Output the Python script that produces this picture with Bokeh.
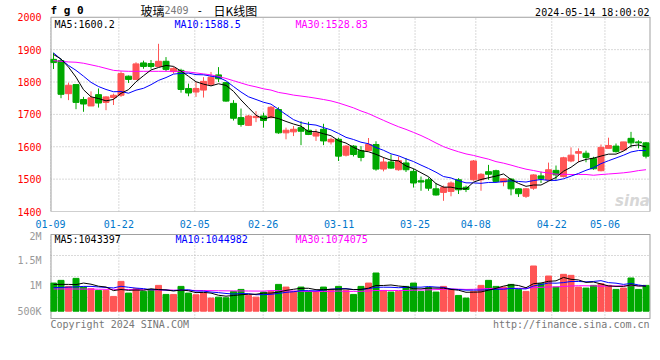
from bokeh.plotting import figure
from bokeh.layouts import column
from bokeh.models import FixedTicker, Label, Range1d, CustomJSTickFormatter
from bokeh.embed import file_html
from bokeh.resources import INLINE

# ---------------- data ----------------
dates = ["01-09","01-10","01-11","01-12","01-15","01-16","01-17","01-18","01-19","01-22",
         "01-23","01-24","01-25","01-26","01-29","01-30","01-31","02-01","02-02","02-05",
         "02-06","02-07","02-08","02-19","02-20","02-21","02-22","02-23","02-26","02-27",
         "02-28","02-29","03-01","03-04","03-05","03-06","03-07","03-08","03-11","03-12",
         "03-13","03-14","03-15","03-18","03-19","03-20","03-21","03-22","03-25","03-26",
         "03-27","03-28","03-29","04-01","04-02","04-03","04-08","04-09","04-10","04-11",
         "04-12","04-15","04-16","04-17","04-18","04-19","04-22","04-23","04-24","04-25",
         "04-26","04-29","04-30","05-06","05-07","05-08","05-09","05-10","05-13","05-14"]

open_ = [1870,1866,1764,1792,1746,1726,1761,1737,1752,1759,
         1818,1808,1859,1857,1848,1864,1832,1836,1780,1769,
         1775,1793,1822,1798,1734,1690,1666,1690,1695,1690,
         1715,1643,1646,1659,1651,1633,1654,1615,1623,1574,
         1602,1588,1588,1607,1531,1553,1529,1550,1524,1495,
         1498,1470,1459,1462,1498,1475,1498,1498,1523,1526,
         1491,1500,1470,1447,1472,1510,1498,1527,1508,1556,
         1580,1580,1564,1526,1595,1602,1590,1626,1615,1612]
high = [1890,1872,1798,1792,1754,1771,1780,1756,1764,1833,
        1820,1861,1866,1868,1918,1877,1846,1841,1795,1800,
        1815,1831,1846,1800,1744,1718,1698,1710,1705,1726,
        1722,1659,1664,1679,1677,1654,1671,1628,1628,1605,
        1605,1602,1627,1617,1567,1576,1570,1565,1532,1508,
        1505,1488,1480,1493,1503,1480,1559,1518,1544,1529,
        1503,1503,1472,1472,1515,1523,1551,1542,1569,1598,
        1595,1588,1569,1607,1628,1610,1615,1646,1620,1615]
low = [1840,1750,1744,1716,1708,1726,1721,1713,1729,1754,
       1797,1808,1841,1841,1848,1834,1826,1767,1756,1754,
       1752,1788,1800,1739,1681,1662,1664,1676,1659,1688,
       1640,1623,1633,1605,1636,1618,1605,1607,1556,1570,
       1570,1555,1586,1526,1524,1532,1526,1522,1474,1464,
       1464,1449,1433,1447,1454,1460,1495,1464,1498,1493,
       1478,1450,1445,1442,1467,1488,1495,1498,1505,1552,
       1552,1552,1529,1524,1595,1582,1588,1597,1595,1564]
close = [1860,1762,1790,1737,1732,1751,1735,1754,1759,1826,
         1808,1856,1848,1848,1864,1839,1842,1777,1766,1780,
         1802,1815,1810,1741,1688,1669,1695,1694,1681,1722,
         1643,1651,1654,1648,1638,1643,1618,1623,1571,1602,
         1576,1567,1607,1531,1553,1534,1557,1529,1488,1491,
         1472,1451,1474,1488,1467,1468,1556,1515,1515,1493,
         1501,1470,1455,1470,1513,1501,1529,1513,1566,1574,
         1585,1567,1532,1598,1604,1585,1615,1612,1612,1571]
volume = [1050000,1103000,985000,1142000,972000,939000,906000,906000,789000,1083000,
          854000,939000,887000,926000,1005000,828000,828000,985000,854000,821000,
          854000,756000,775000,762000,887000,926000,808000,775000,874000,887000,
          1024000,972000,887000,972000,887000,887000,972000,926000,985000,906000,
          828000,985000,1050000,1247000,906000,874000,887000,985000,1050000,887000,
          959000,874000,985000,926000,808000,756000,887000,1005000,1103000,985000,
          972000,1024000,926000,887000,1384000,1037000,1188000,972000,1221000,1201000,
          972000,952000,1005000,1037000,1005000,926000,952000,1149000,926000,1005000]

# moving-average values before a full window exists
ma5_head = [1885, 1871, 1846, 1815]
ma10_head = [1890, 1870, 1851, 1836, 1818, 1799, 1786, 1777, 1770]
ma30_head = [1866, 1864, 1862, 1861, 1858, 1853, 1848, 1842, 1836, 1834,
             1833, 1833, 1833, 1833, 1833, 1833, 1833, 1833, 1831, 1828,
             1825, 1822, 1817, 1811, 1804, 1797, 1790, 1785, 1779]
vol_ma5_head = [1024000, 1024000, 1024000, 1020000]
vol_ma10_head = [960000, 965000, 970000, 975000, 985000, 985000, 975000, 965000, 955000]
vol_ma30_head = [935000, 935000, 935000, 934000, 933000, 932000, 930000, 928000, 926000, 925000,
                 924000, 922000, 920000, 918000, 916000, 914000, 912000, 910000, 908000, 906000,
                 904000, 902000, 900000, 898000, 897000, 896000, 895000, 894000, 893000]

tick_dates = ["01-09","01-22","02-05","02-26","03-11","03-25","04-08","04-22","05-06"]
price_ticks = [1400, 1500, 1600, 1700, 1800, 1900, 2000]
vol_ticks = [500000, 1000000, 1500000, 2000000]

price_legend = ["MA5:1600.2", "MA10:1588.5", "MA30:1528.83"]
vol_legend = ["MA5:1043397", "MA10:1044982", "MA30:1074075"]

# ---------------- helpers ----------------
def moving_avg(series, n, head):
    out = list(head)
    for i in range(len(head), len(series)):
        out.append(sum(series[i - n + 1:i + 1]) / n)
    return out

N = len(dates)
idx = list(range(N))
UP, DOWN = "#ff5555", "#00a800"
colors = [UP if c > o else DOWN for o, c in zip(open_, close)]
body_top = [max(o, c) for o, c in zip(open_, close)]
body_bot = [min(o, c) for o, c in zip(open_, close)]

ma5 = moving_avg(close, 5, ma5_head)
ma10 = moving_avg(close, 10, ma10_head)
ma30 = moving_avg(close, 30, ma30_head)
vma5 = moving_avg(volume, 5, vol_ma5_head)
vma10 = moving_avg(volume, 10, vol_ma10_head)
vma30 = moving_avg(volume, 30, vol_ma30_head)

# ---- layout geometry (page pixels; the page has no margin) ----
FRAME_L, FRAME_W = 50, 600
X0 = -0.4
X1 = X0 + N
PX = FRAME_W / N
grid_pos = [dates.index(d) * N / (N - 1) + X0 for d in tick_dates]

# price panel: figure spans page y 0..230, frame 0..214, box 17..214
P_LO, P_HI = 1400, 2000
M_BOX_TOP, M_BOX_BOT = 17, 214
P_PER_PX = (P_HI - P_LO) / (M_BOX_BOT - M_BOX_TOP)
P_END = P_HI + M_BOX_TOP * P_PER_PX

# volume panel: figure spans page y 230..358, frame 230..340, box 234..318
V_FIG_TOP = 230
V_FRAME_BOT = 340
V_BOX_TOP, V_BOX_BOT = 234, 318
V_BASE, V_HI = 500000, 2000000
V_BASE_Y = 310.7
V_PER_PX = (V_HI - V_BASE) / (V_BASE_Y - V_BOX_TOP)
V_END = V_HI + (V_BOX_TOP - V_FIG_TOP) * V_PER_PX
V_START = V_HI - (V_FRAME_BOT - V_BOX_TOP) * V_PER_PX
V_BOX_LO = V_HI - (V_BOX_BOT - V_BOX_TOP) * V_PER_PX

def xd(px):
    return X0 + (px - FRAME_L) / PX

def yp(py):
    return P_HI - (py - M_BOX_TOP) * P_PER_PX

def yv(py):
    return V_HI - (py - V_BOX_TOP) * V_PER_PX

MONO = "DejaVu Sans Mono"
GRID = "#b4b4b4"
BORDER = "#a0a0a0"

def add_label(fig, text, px, py, conv, color="black", size="10px", align="left",
              font=MONO, style="normal", alpha=1.0):
    fig.add_layout(Label(x=xd(px), y=conv(py), text=text, text_color=color,
                         text_font=font, text_font_size=size, text_align=align,
                         text_baseline="middle", text_font_style=style,
                         text_alpha=alpha))

def draw_box(fig, lo, hi, hgrid):
    # dotted grid
    fig.segment(x0=grid_pos, y0=[lo] * len(grid_pos), x1=grid_pos, y1=[hi] * len(grid_pos),
                line_color=GRID, line_dash="1 2", line_width=1)
    fig.segment(x0=[X0] * len(hgrid), y0=hgrid, x1=[X1] * len(hgrid), y1=hgrid,
                line_color=GRID, line_dash="1 2", line_width=1)
    # solid frame (edge lines doubled so the visible half is 1px)
    fig.segment(x0=[X0, X1], y0=[lo, lo], x1=[X0, X1], y1=[hi, hi],
                line_color=BORDER, line_width=2)
    fig.segment(x0=[X0, X0], y0=[lo, hi], x1=[X1, X1], y1=[lo, hi],
                line_color=BORDER, line_width=1)

def style_axis(ax, color):
    ax.major_label_text_color = color
    ax.major_label_text_font = MONO
    ax.major_label_text_font_size = "10px"
    ax.major_tick_line_color = None
    ax.minor_tick_line_color = None
    ax.axis_line_color = None

date_fmt = CustomJSTickFormatter(args=dict(labels=tick_dates, pos=grid_pos), code="""
    let best = 0;
    for (let k = 0; k < pos.length; k++) {
        if (Math.abs(pos[k] - tick) < Math.abs(pos[best] - tick)) best = k;
    }
    return labels[best];
""")

# ---------------- price panel ----------------
p = figure(width=656, height=230, x_range=Range1d(X0, X1), y_range=Range1d(P_LO, P_END),
           output_backend="svg", toolbar_location=None,
           min_border_left=50, min_border_right=6, min_border_top=0, min_border_bottom=16)
p.outline_line_color = None
p.grid.visible = False

p.yaxis.ticker = FixedTicker(ticks=price_ticks)
style_axis(p.yaxis[0], "#ff0000")
p.yaxis.major_label_standoff = 3

p.xaxis.ticker = FixedTicker(ticks=grid_pos)
p.xaxis.formatter = date_fmt
style_axis(p.xaxis[0], "#0077cc")
p.xaxis.major_label_standoff = 2

draw_box(p, P_LO, P_HI, price_ticks[1:-1])

p.segment(x0=idx, y0=low, x1=idx, y1=high, color=colors, line_width=1)
p.vbar(x=idx, width=0.8, top=body_top, bottom=body_bot, fill_color=colors, line_color=colors)
p.line(idx, ma30, color="#ff00ff", line_width=1)
p.line(idx, ma10, color="#0000ff", line_width=1)
p.line(idx, ma5, color="black", line_width=1)

add_label(p, price_legend[0], 54, 24, yp, "black")
add_label(p, price_legend[1], 174, 24, yp, "#0000ff")
add_label(p, price_legend[2], 295, 24, yp, "#ff00ff")
add_label(p, "2.5M", 47, 200.5, yp, "#999999", align="right")

add_label(p, "f g 0", 50, 10, yp, "black", size="11px", style="bold")
add_label(p, "玻璃", 140, 10, yp, "black", size="12px", font="Noto Sans CJK SC")
add_label(p, "2409", 164, 10, yp, "#777777", size="10px")
add_label(p, "-", 196, 10, yp, "black", size="11px")
add_label(p, "日K线图", 213, 10, yp, "black", size="12px", font="Noto Sans CJK SC")
add_label(p, "2024-05-14 18:00:02", 649, 12, yp, "black", align="right")
add_label(p, "sina", 632, 203, yp, "#cccccc", size="15px", align="center",
          font="DejaVu Sans", style="bold italic", alpha=0.8)

# ---------------- volume panel ----------------
v = figure(width=656, height=128, x_range=p.x_range, y_range=Range1d(V_START, V_END),
           output_backend="svg", toolbar_location=None,
           min_border_left=50, min_border_right=6, min_border_top=0, min_border_bottom=18)
v.outline_line_color = None
v.grid.visible = False
v.xaxis.visible = False
v.yaxis.ticker = FixedTicker(ticks=vol_ticks)
v.yaxis.formatter = CustomJSTickFormatter(code="""
    if (tick >= 1000000) return (tick / 1000000) + "M";
    return (tick / 1000) + "K";
""")
style_axis(v.yaxis[0], "#999999")
v.yaxis.major_label_standoff = 3

draw_box(v, V_BOX_LO, V_HI, [V_BOX_LO + (V_HI - V_BOX_LO) * k / 4 for k in (1, 2, 3)])

v.vbar(x=idx, width=0.8, top=volume, bottom=V_BASE, fill_color=colors, line_color=colors)
v.line(idx, vma30, color="#ff00ff", line_width=1)
v.line(idx, vma10, color="#0000ff", line_width=1)
v.line(idx, vma5, color="black", line_width=1)

add_label(v, vol_legend[0], 54, 238.5, yv, "black")
add_label(v, vol_legend[1], 175, 238.5, yv, "#0000ff")
add_label(v, vol_legend[2], 295, 238.5, yv, "#ff00ff")
add_label(v, "Copyright 2024 SINA.COM", 50, 324, yv, "#777777")
add_label(v, "http://finance.sina.com.cn", 649, 324, yv, "#777777", align="right")

layout = column(p, v, spacing=0)
open("out.html", "w").write(file_html(layout, INLINE))
